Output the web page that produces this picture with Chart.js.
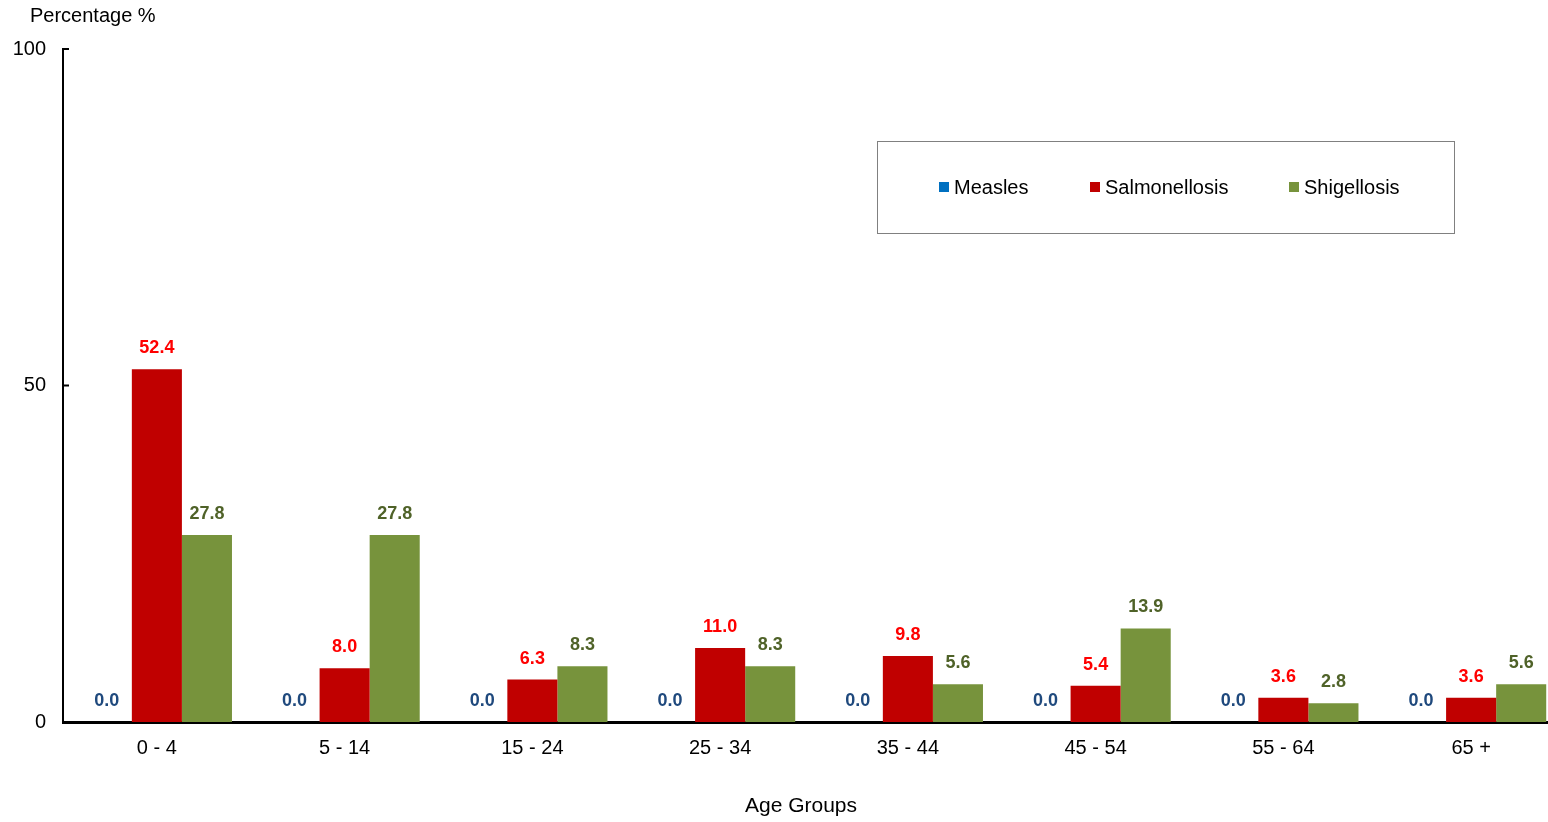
<!DOCTYPE html>
<html>
<head>
<meta charset="utf-8">
<script src="https://cdn.jsdelivr.net/npm/chart.js@4"></script>
<style>
  html, body { margin: 0; padding: 0; background: #fff; overflow: hidden; }
  #wrap { width: 1565px; height: 822px; position: relative; }
</style>
</head>
<body>
<div id="wrap"><canvas id="c"></canvas></div>
<script>
const categories = ["0 - 4", "5 - 14", "15 - 24", "25 - 34", "35 - 44", "45 - 54", "55 - 64", "65 +"];
const measles = [0.0, 0.0, 0.0, 0.0, 0.0, 0.0, 0.0, 0.0];
const salmonellosis = [52.4, 8.0, 6.3, 11.0, 9.8, 5.4, 3.6, 3.6];
const shigellosis = [27.8, 27.8, 8.3, 8.3, 5.6, 13.9, 2.8, 5.6];
const seriesNames = ["Measles", "Salmonellosis", "Shigellosis"];
const yTicks = [0, 50, 100];
const yTitle = "Percentage %";
const xTitle = "Age Groups";

const FONT = "'Liberation Sans', Arial, sans-serif";
const barColors = ["#0070C0", "#C00000", "#77933C"];
const labelColors = ["#1F497D", "#FF0000", "#4F6228"];

const overlay = {
  id: 'overlay',
  afterDatasetsDraw(chart) {
    const ctx = chart.ctx;
    ctx.save();
    ctx.font = "bold 18px " + FONT;
    ctx.textAlign = 'center';
    ctx.textBaseline = 'middle';
    chart.data.datasets.forEach((ds, i) => {
      const meta = chart.getDatasetMeta(i);
      meta.data.forEach((el, j) => {
        ctx.fillStyle = labelColors[i];
        ctx.fillText(ds.data[j].toFixed(1), el.x, el.y - 21);
      });
    });
    ctx.restore();
  },
  afterDraw(chart) {
    const ctx = chart.ctx;
    const area = chart.chartArea;
    const ys = chart.scales.y;
    ctx.save();
    // inward y ticks
    ctx.strokeStyle = '#000';
    ctx.lineWidth = 2;
    yTicks.forEach(v => {
      const y = ys.getPixelForValue(v);
      ctx.beginPath();
      ctx.moveTo(area.left, y);
      ctx.lineTo(area.left + 6, y);
      ctx.stroke();
    });
    // titles
    ctx.fillStyle = '#000';
    ctx.font = "20px " + FONT;
    ctx.textBaseline = 'middle';
    ctx.textAlign = 'left';
    ctx.fillText(yTitle, 30, 16);
    ctx.textAlign = 'center';
    ctx.font = "21px " + FONT;
    ctx.fillText(xTitle, 801, 806);
    // legend box
    const bx = 877, by = 141, bw = 577, bh = 92;
    ctx.fillStyle = '#fff';
    ctx.fillRect(bx, by, bw, bh);
    ctx.strokeStyle = '#808080';
    ctx.lineWidth = 1;
    ctx.strokeRect(bx + 0.5, by + 0.5, bw, bh);
    const items = [939, 1090, 1289];
    ctx.textAlign = 'left';
    ctx.font = "20px " + FONT;
    items.forEach((x, i) => {
      ctx.fillStyle = barColors[i];
      ctx.fillRect(x, 182, 10, 10);
      ctx.fillStyle = '#000';
      ctx.fillText(seriesNames[i], x + 15, 188);
    });
    ctx.restore();
  }
};

new Chart(document.getElementById('c'), {
  type: 'bar',
  data: {
    labels: categories,
    datasets: [
      { label: seriesNames[0], data: measles, backgroundColor: barColors[0] },
      { label: seriesNames[1], data: salmonellosis, backgroundColor: barColors[1] },
      { label: seriesNames[2], data: shigellosis, backgroundColor: barColors[2] }
    ]
  },
  options: {
    responsive: true,
    maintainAspectRatio: false,
    animation: false,
    devicePixelRatio: 1,
    layout: { padding: { top: 49, right: 0, left: 0, bottom: 0 } },
    datasets: { bar: { barPercentage: 1.0, categoryPercentage: 0.8 } },
    plugins: { legend: { display: false }, tooltip: { enabled: false } },
    scales: {
      x: {
        grid: { display: false },
        border: { display: true, color: '#000', width: 3 },
        ticks: { color: '#000', font: { family: FONT, size: 20 }, padding: 6 },
        afterFit(s) { s.height = 100; }
      },
      y: {
        min: 0, max: 100,
        grid: { display: false },
        border: { display: true, color: '#000', width: 2 },
        ticks: { stepSize: 50, color: '#000', font: { family: FONT, size: 20 }, padding: 9 },
        afterFit(s) { s.width = 63; }
      }
    }
  },
  plugins: [overlay]
});
</script>
</body>
</html>
